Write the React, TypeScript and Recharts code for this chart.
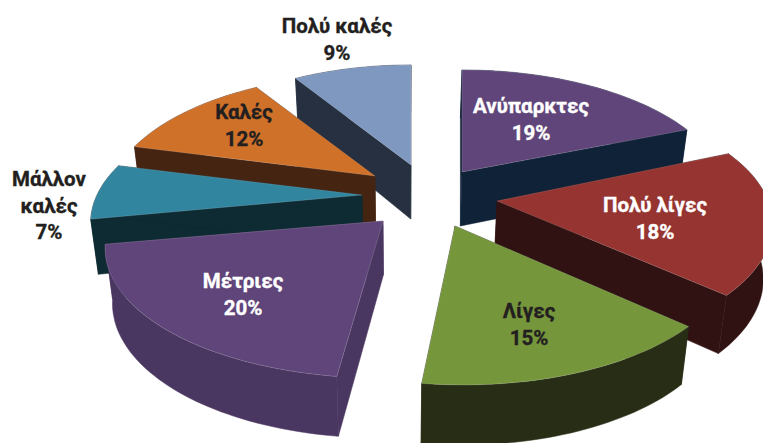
import { PieChart, Pie } from "recharts";

const categories = ["Ανύπαρκτες", "Πολύ λίγες", "Λίγες", "Μέτριες", "Μάλλον καλές", "Καλές", "Πολύ καλές"];
const values = [19, 18, 15, 20, 7, 12, 9];

const topColors = ["#5f4579", "#963431", "#76963c", "#5f4579", "#31859f", "#d0712a", "#7f98c0"];
const wallColors = ["#102238", "#311212", "#282e16", "#4a3761", "#0e2a33", "#452412", "#273040"];
const textColors = ["#ffffff", "#ffffff", "#231f20", "#ffffff", "#231f20", "#231f20", "#231f20"];

// where each slice's tip sits after the explode
const apexes = [
  [462, 172],
  [497, 201],
  [455, 226],
  [383, 221],
  [362, 195],
  [375, 176],
  [411, 165],
];
// small per-slice corrections of the rim: x stretch, then dx, dy
const rimTweaks = [
  [0.974, 0, 0],
  [1.015, -3, -5],
  [0.982, 8.6, 1],
  [1, -3.5, -1],
  [1, 3, 0],
  [0.976, 0, 0],
  [0.95, 0, 2],
];
// label centres, and how each name wraps
const labelSpots = [
  [531, 106],
  [655, 205],
  [529, 311],
  [243, 281],
  [49, 179],
  [244, 112],
  [337, 26],
];
const labelLines = [["Ανύπαρκτες"], ["Πολύ λίγες"], ["Λίγες"], ["Μέτριες"], ["Μάλλον", "καλές"], ["Καλές"], ["Πολύ καλές"]];

// back slices first so the front ones cover their walls
const drawOrder = ["Πολύ καλές", "Καλές", "Μάλλον καλές", "Ανύπαρκτες", "Πολύ λίγες", "Μέτριες", "Λίγες"];

const rows = categories.map((name, i) => ({ name, value: values[i] }));

const RX = 268;
const SQUASH = 124 / 268;
const PERSPECTIVE = 0.215;
const VANISH_X = 400;

function toTop(i: number, r: number, angle: number) {
  const [ax, ay] = apexes[i];
  const [sx, dx, dy] = rimTweaks[i];
  const t = (angle * Math.PI) / 180;
  const u = Math.cos(t);
  const v = -Math.sin(t);
  const s = 1 / (1 - PERSPECTIVE * v);
  return { x: ax + r * u * s * sx + dx, y: ay + r * SQUASH * v * s + dy, v };
}

function toBottom(p: { x: number; y: number; v: number }) {
  return { x: p.x - (p.x - VANISH_X) * 0.025, y: p.y + 54 + 6 * p.v };
}

const pathOf = (pts: { x: number; y: number }[]) =>
  "M" + pts.map((p) => `${p.x.toFixed(1)},${p.y.toFixed(1)}`).join("L") + "Z";

function Slice3D(props: any) {
  const { startAngle, endAngle, outerRadius, name, only } = props;
  if (name !== only) return <g />;
  const i = categories.indexOf(name);
  const [ax, ay] = apexes[i];
  const steps = Math.ceil(Math.abs(endAngle - startAngle) / 1.5);
  const rim = [];
  for (let k = 0; k <= steps; k++) {
    rim.push(toTop(i, outerRadius, startAngle + ((endAngle - startAngle) * k) / steps));
  }
  const apex = { x: ax, y: ay, v: 0 };
  const apexLow = toBottom(apex);
  const first = rim[0];
  const last = rim[rim.length - 1];
  const wall = wallColors[i];
  return (
    <g>
      <path d={pathOf([apex, first, toBottom(first), apexLow])} fill={wall} stroke={wall} strokeWidth={0.5} />
      <path d={pathOf([apex, last, toBottom(last), apexLow])} fill={wall} stroke={wall} strokeWidth={0.5} />
      <path d={pathOf([...rim, ...rim.map(toBottom).reverse()])} fill={wall} stroke={wall} strokeWidth={0.5} />
      <path d={pathOf([apex, ...rim])} fill={topColors[i]} stroke="#ffffff" strokeOpacity={0.25} strokeWidth={0.6} />
    </g>
  );
}

function SliceLabel(props: any) {
  const i = categories.indexOf(props.name);
  const [x, y] = labelSpots[i];
  const lines = [...labelLines[i], `${values[i]}%`];
  return (
    <text
      x={x}
      y={y}
      textAnchor="middle"
      fill={textColors[i]}
      stroke={textColors[i]}
      strokeWidth={0.35}
      fontFamily="Roboto, sans-serif"
      fontWeight={700}
      fontSize={20.5}
    >
      {lines.map((line, k) => (
        <tspan key={line} x={x} y={y + k * 26.5} dominantBaseline="central">
          {line}
        </tspan>
      ))}
    </text>
  );
}

export default function App() {
  return (
    <div style={{ position: "absolute", left: 0, top: 0 }}>
      <PieChart width={763} height={443} margin={{ top: 0, right: 0, bottom: 0, left: 0 }}>
        {drawOrder.map((only) => (
          <Pie
            key={only}
            data={rows}
            dataKey="value"
            nameKey="name"
            cx={428}
            cy={193}
            outerRadius={RX}
            startAngle={90}
            endAngle={-270}
            isAnimationActive={false}
            shape={(p: any) => <Slice3D {...p} only={only} />}
          />
        ))}
        <Pie
          data={rows}
          dataKey="value"
          nameKey="name"
          cx={428}
          cy={193}
          outerRadius={RX}
          startAngle={90}
          endAngle={-270}
          isAnimationActive={false}
          shape={() => <g />}
          labelLine={false}
          label={(p: any) => <SliceLabel {...p} />}
        />
      </PieChart>
    </div>
  );
}
